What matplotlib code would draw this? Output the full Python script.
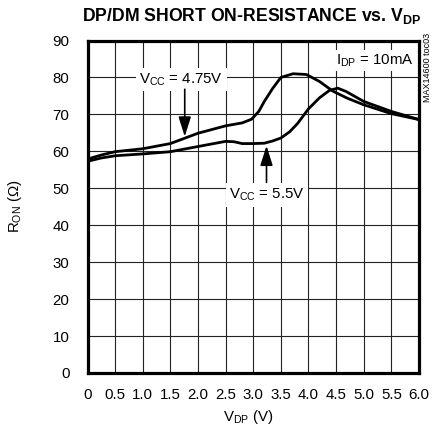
import matplotlib
matplotlib.use("Agg")
import matplotlib.pyplot as plt

plt.rcParams['font.family'] = ['Liberation Sans', 'DejaVu Sans']
plt.rcParams['mathtext.fontset'] = 'custom'
plt.rcParams['mathtext.rm'] = 'Liberation Sans'
plt.rcParams['mathtext.it'] = 'Liberation Sans:italic'
plt.rcParams['mathtext.bf'] = 'Liberation Sans:bold'

# Data
vdp_475 = [0, 0.25, 0.5, 1.0, 1.5, 1.75, 2.0, 2.5, 2.8, 2.97, 3.1, 3.2, 3.35, 3.5,
           3.72, 3.96, 4.2, 4.44, 4.7, 5.0, 5.5, 6.0]
ron_475 = [57.9, 59.0, 59.9, 60.7, 62.1, 63.5, 64.9, 66.9, 67.7, 68.7, 70.8, 73.5,
           77.0, 80.0, 81.0, 80.8, 78.9, 76.3, 74.4, 72.6, 70.2, 68.6]

vdp_55 = [0, 0.25, 0.5, 1.0, 1.5, 2.0, 2.5, 2.65, 2.8, 3.0, 3.2, 3.35, 3.5, 3.66,
          3.8, 4.0, 4.2, 4.38, 4.53, 4.68, 5.0, 5.5, 6.0]
ron_55 = [57.3, 58.2, 58.8, 59.3, 59.9, 61.3, 62.7, 62.6, 62.1, 62.1, 62.2, 62.8,
          63.6, 65.3, 67.5, 71.5, 74.5, 76.5, 77.1, 76.2, 73.5, 70.8, 68.6]

x_ticks = [0, 0.5, 1.0, 1.5, 2.0, 2.5, 3.0, 3.5, 4.0, 4.5, 5.0, 5.5, 6.0]
x_tick_labels = ['0', '0.5', '1.0', '1.5', '2.0', '2.5', '3.0', '3.5', '4.0',
                 '4.5', '5.0', '5.5', '6.0']
y_ticks = [0, 10, 20, 30, 40, 50, 60, 70, 80, 90]

fig = plt.figure(figsize=(4.41, 4.38), dpi=100)
ax = fig.add_axes([87.5 / 441, 1 - 373 / 438, 331.5 / 441, (373 - 40.5) / 438])

ax.plot(vdp_475, ron_475, color='black', lw=2.0, solid_joinstyle='round', zorder=4)
ax.plot(vdp_55, ron_55, color='black', lw=2.0, solid_joinstyle='round', zorder=4)

ax.set_xlim(0, 6)
ax.set_ylim(0, 90)
ax.set_xticks(x_ticks)
ax.set_xticklabels(x_tick_labels)
ax.set_yticks(y_ticks)
ax.tick_params(axis='both', length=0, labelsize=10.8, colors='black')
ax.tick_params(axis='x', pad=11)
ax.tick_params(axis='y', pad=13)
ax.grid(True, color='#222222', lw=0.8, zorder=1)
for s in ax.spines.values():
    s.set_linewidth(2.3)
    s.set_color('black')
    s.set_zorder(6)

bbox = dict(facecolor='white', edgecolor='none', pad=2.5)
arrow = dict(arrowstyle='-|>,head_length=1.2,head_width=0.38',
             color='black', lw=1.2, shrinkA=0, shrinkB=0)
ax.text(1.70, 79.4, r'V$_{\mathrm{CC}}$ = 4.75V', ha='center', va='center',
        fontsize=10.8, bbox=bbox, zorder=5)
ax.annotate('', xy=(1.76, 64.0), xytext=(1.76, 76.8), arrowprops=arrow, zorder=5)

ax.text(3.25, 48.2, r'V$_{\mathrm{CC}}$ = 5.5V', ha='center', va='center',
        fontsize=10.8, bbox=bbox, zorder=5)
ax.annotate('', xy=(3.24, 61.5), xytext=(3.24, 51.6), arrowprops=arrow, zorder=5)

ax.text(5.9, 84.6, r'I$_{\mathrm{DP}}$ = 10mA', ha='right', va='center',
        fontsize=10.8, bbox=dict(facecolor='white', edgecolor='none', pad=1.5), zorder=5)

fig.text(252 / 441, 1 - 16 / 438, r'DP/DM SHORT ON-RESISTANCE vs. V$_{\mathbf{DP}}$',
         ha='center', va='center', fontsize=12.7, fontweight='bold')
fig.text(248 / 441, 1 - 417 / 438, r'V$_{\mathrm{DP}}$ (V)', ha='center', va='center',
         fontsize=10.8)
fig.text(15 / 441, 1 - 206 / 438, r'R$_{\mathrm{ON}}$ ($\Omega$)', ha='center',
         va='center', rotation=90, fontsize=10.8)
fig.text(428 / 441, 1 - 33 / 438, 'MAX14600 toc03', ha='center', va='top',
         rotation=90, fontsize=6.5)

fig.savefig('out.png', dpi=100)
